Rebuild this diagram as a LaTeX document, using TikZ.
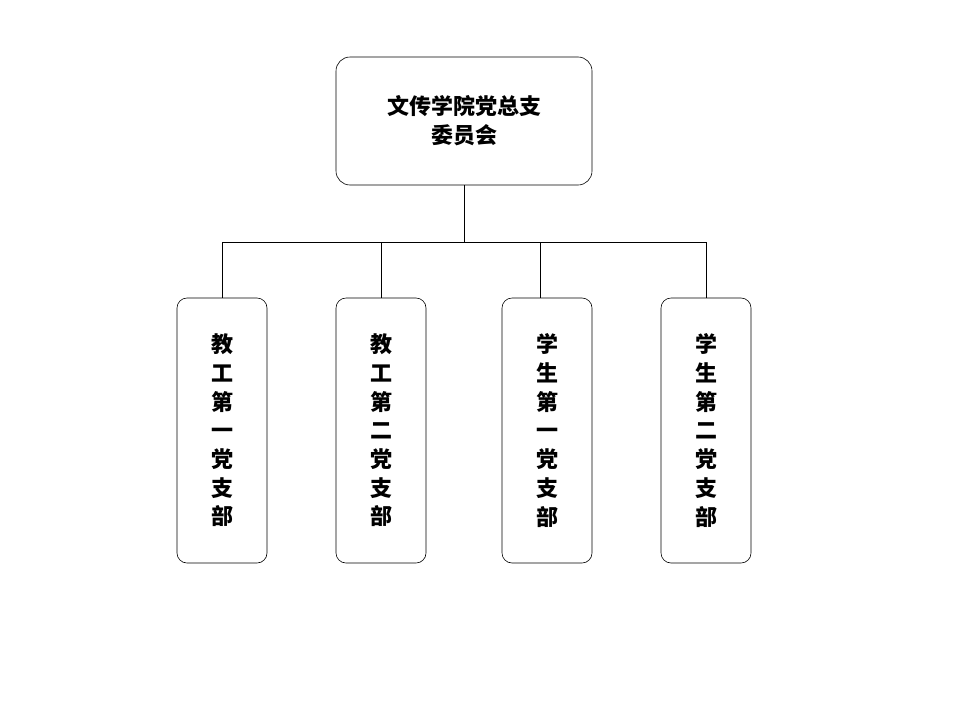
\documentclass[tikz,border=0pt]{standalone}
\usepackage{fontspec}
\setmainfont{Noto Sans CJK SC}
\usetikzlibrary{positioning, calc}

\begin{document}
\begin{tikzpicture}[
    x=1pt, y=-1pt,
    topbox/.style={rectangle, draw, semithick, rounded corners=14pt, minimum width=256pt, minimum height=128pt, align=center, font=\bfseries\fontsize{22pt}{29pt}\selectfont},
    branch/.style={rectangle, draw, semithick, rounded corners=10pt, minimum width=90pt, minimum height=265pt, align=center, font=\bfseries\fontsize{22pt}{28.7pt}\selectfont},
    line/.style={thin}
]
\useasboundingbox (0,0) rectangle (960,720);

\node[topbox] (committee) at (464,121) {文传学院党总支\\委员会};

\node[branch] (jg1) at (222,430.5) {教\\工\\第\\一\\党\\支\\部};
\node[branch] (jg2) at (381,430.5) {教\\工\\第\\二\\党\\支\\部};
\node[branch] (xs1) at (547,430.5) {学\\生\\第\\一\\党\\支\\部};
\node[branch] (xs2) at (706,430.5) {学\\生\\第\\二\\党\\支\\部};

\coordinate (bus) at (464,242);
\coordinate (busL) at (222,242);
\coordinate (busR) at (706,242);
\coordinate (bus2) at (381,242);
\coordinate (bus3) at (540,242);

\draw[line] (committee.south) -- (bus);
\draw[line] (busL) -- (busR);
\draw[line] (busL) -- (jg1.north);
\draw[line] (bus2) -- (jg2.north);
\draw[line] (bus3) -- (bus3 |- xs1.north);
\draw[line] (busR) -- (xs2.north);

\end{tikzpicture}
\end{document}
